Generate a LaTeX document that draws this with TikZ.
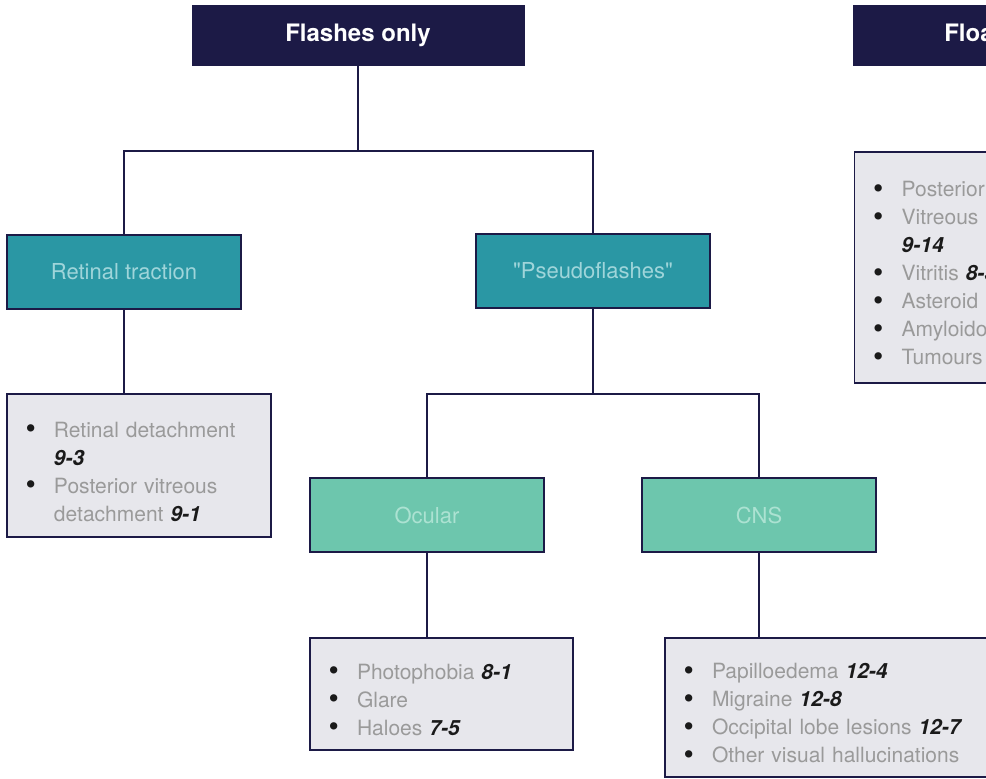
\documentclass[tikz,border=0pt]{standalone}
\usepackage{fontspec}
\setmainfont{TeX Gyre Heros}
\newfontfamily\qfont{TeX Gyre Heros}[Ligatures=TeXOff]

\definecolor{navy}{HTML}{1C1A46}
\definecolor{tealbox}{HTML}{2A97A4}
\definecolor{tealtext}{HTML}{9FD5DA}
\definecolor{mintbox}{HTML}{6DC6AD}
\definecolor{minttext}{HTML}{ACE2D2}
\definecolor{paper}{HTML}{E7E7EC}
\definecolor{greytext}{HTML}{9A9A9A}
\definecolor{ink}{HTML}{1A1A1A}

% list item with bullet and hanging indent
\newcommand\itm[1]{\par\noindent\hangindent=35pt\hangafter=1%
  \makebox[35pt][l]{\hspace{6.5pt}\textcolor{ink}{\raisebox{-0.05em}{\scalebox{1.4}{\textbullet}}}}#1\par}
% chapter reference
\newcommand\rf[1]{\textcolor{ink}{\bfseries\itshape #1}}

\tikzset{
  head/.style={draw=navy, fill=navy, text=white, line width=1pt,
    minimum width=332pt, minimum height=60pt, inner sep=0pt,
    font=\fontsize{24}{28}\selectfont\bfseries},
  cause/.style={draw=navy, fill=tealbox, text=tealtext, line width=1.3pt,
    minimum width=234pt, minimum height=74pt, inner sep=0pt,
    font=\fontsize{22}{26}\selectfont},
  kind/.style={cause, fill=mintbox, text=minttext},
  lst/.style={draw=navy, fill=paper, text=greytext, line width=1.3pt,
    inner xsep=12pt, inner ysep=0pt, align=left,
    font=\fontsize{21}{28}\selectfont},
  link/.style={navy, line width=1.5pt}
}

\begin{document}
\begin{tikzpicture}[x=1pt,y=-1pt]
\useasboundingbox (0,0) rectangle (986,779);

\scope % the page cuts the right hand tree
\clip (0,0) rectangle (986,779);

% headers
\node[head] (flash) at (358,35)  {Flashes only};
\node[head] (float) at (1019,35) {Floaters only};

% flashes
\node[cause] (retina) at (124,272) {Retinal traction};
\node[cause] (pseudo) at (593,271) {\qfont"Pseudoflashes"};
\node[kind]  (ocular) at (427,515) {Ocular};
\node[kind]  (cns)    at (759,515) {CNS};

\node[lst, text width=240pt, minimum height=143pt] (retlist) at (139,465.5) {%
  \itm{Retinal detachment \rf{9-3}}
  \itm{Posterior vitreous detachment \rf{9-1}}};
\node[lst, text width=239pt, minimum height=112pt] (ocllist) at (441.5,694) {%
  \itm{Photophobia \rf{8-1}}
  \itm{Glare}
  \itm{Haloes \rf{7-5}}};
\node[lst, text width=311pt, minimum height=139pt] (cnslist) at (832.5,707.5) {%
  \itm{Papilloedema \rf{12-4}}
  \itm{Migraine \rf{12-8}}
  \itm{Occipital lobe lesions \rf{12-7}}
  \itm{Other visual hallucinations}};

% floaters
\node[lst, text width=360pt, minimum height=231pt, anchor=west] (fltlist) at (854,267.5) {%
  \itm{Posterior vitreous detachment \rf{9-1}}
  \itm{Vitreous haemorrhage\newline\rf{9-14}}
  \itm{Vitritis \rf{8-3}}
  \itm{Asteroid hyalosis}
  \itm{Amyloidosis}
  \itm{Tumours}};

% tree
\coordinate (j1) at (flash.south |- 0,151);
\coordinate (j2) at (pseudo.south |- 0,394);
\draw[link] (flash.south) -- (j1);
\draw[link] (retina.north) |- (j1) -| (pseudo.north);
\draw[link] (pseudo.south) -- (j2);
\draw[link] (ocular.north) |- (j2) -| (cns.north);
\draw[link] (retina.south) -- (retina.south |- retlist.north);
\draw[link] (ocular.south) -- (ocular.south |- ocllist.north);
\draw[link] (cns.south) -- (cns.south |- cnslist.north);
\endscope
\end{tikzpicture}
\end{document}
